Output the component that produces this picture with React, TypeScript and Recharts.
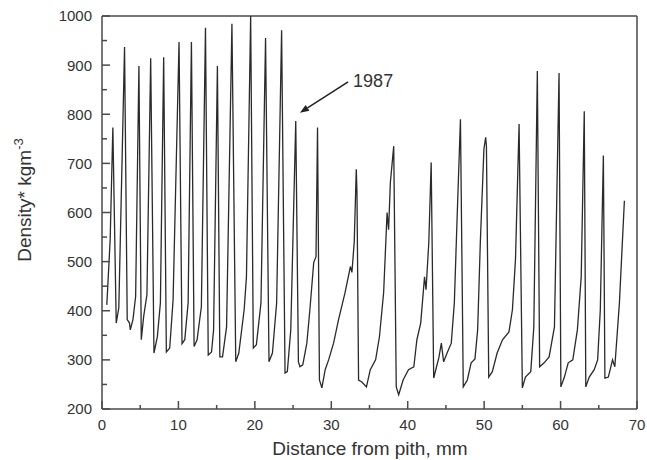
import { LineChart, Line, XAxis, YAxis, ReferenceLine } from 'recharts';

const distance = [
  0.63, 1.07, 1.42, 1.86, 2.2, 2.95, 3.3, 3.6, 3.7, 4.05, 4.4, 4.83, 5.14, 5.45, 5.88, 6.37, 6.8, 7.24, 7.64, 8.07,
  8.42, 8.86, 9.3, 10.08, 10.47, 10.83, 11.27, 11.7, 12.05, 12.44, 13.0, 13.54, 13.9, 14.33, 14.6, 15.1, 15.42, 15.77,
  16.3, 17.0, 17.5, 17.9, 18.6, 18.9, 19.45, 19.8, 20.2, 20.8, 21.4, 21.85, 22.3, 22.85, 23.5, 23.95, 24.25, 24.7,
  25.35, 25.7, 25.9, 26.27, 26.8, 27.2, 27.7, 28.0, 28.2, 28.45, 28.77, 29.2, 29.65, 30.3, 30.95, 31.8, 32.5, 32.7,
  33.0, 33.27, 33.36, 33.57, 34.0, 34.6, 35.1, 35.8, 36.3, 36.85, 37.3, 37.5, 37.73, 38.17, 38.5, 38.82, 39.4, 40.1,
  40.8, 41.2, 41.7, 42.2, 42.4, 42.76, 43.07, 43.4, 43.77, 44.07, 44.4, 44.7, 45.15, 45.7, 46.1, 46.5, 46.9, 47.27,
  47.8, 48.3, 48.8, 49.15, 49.5, 49.97, 50.2, 50.3, 50.6, 51.07, 51.7, 52.4, 53.25, 53.7, 54.1, 54.57, 55.0, 55.4,
  56.1, 56.5, 56.96, 57.26, 57.85, 58.5, 59.2, 59.8, 60.04, 60.5, 61.0, 61.6, 62.2, 62.7, 63.1, 63.3, 63.75, 64.4,
  64.85, 65.2, 65.6, 65.8, 66.25, 66.8, 67.1, 67.7, 68.35,
];

const density = [
  412, 545, 773, 375, 406, 937, 382, 375, 361, 382, 429, 898, 341, 388, 433, 914, 314, 347, 416, 916,
  316, 324, 422, 947, 333, 341, 416, 947, 327, 341, 408, 976, 310, 316, 361, 898, 306, 306,
  367, 984, 296, 314, 402, 469, 1000, 324, 331, 416, 955, 296, 314, 416, 971, 273, 276, 361,
  786, 296, 286, 290, 334, 402, 498, 510, 773, 259, 243, 280, 300, 334, 382, 437, 490, 478,
  539, 688, 641, 259, 255, 245, 280, 300, 347, 437, 600, 565, 661, 735, 245, 229, 259, 280,
  286, 341, 375, 469, 443, 539, 702, 263, 286, 304, 334, 296, 314, 334, 416, 606, 790, 245,
  259, 294, 302, 361, 539, 729, 753, 735, 265, 276, 314, 341, 357, 402, 504, 780, 243, 265,
  276, 367, 888, 286, 294, 306, 367, 884, 245, 265, 294, 300, 361, 469, 806, 245, 265, 280,
  300, 402, 716, 263, 265, 300, 286, 416, 624,
];

const xTicks = [0, 5, 10, 15, 20, 25, 30, 35, 40, 45, 50, 55, 60, 65, 70];
const yTicks = [200, 250, 300, 350, 400, 450, 500, 550, 600, 650, 700, 750, 800, 850, 900, 950, 1000];

const arrowTail = { x: 32.2, y: 866 };
const arrowHead = { x: 25.9, y: 803 };
const arrowLabel = '1987';

const data = distance.map((x, i) => ({ x, y: density[i] }));

const FONT = '"Liberation Sans", Arial, sans-serif';
const AXIS = '#4a4a4a';
const TEXT = '#333';

const LeftTick = (props: any) => {
  const { x, y, payload } = props;
  const major = payload.value % 100 === 0;
  return (
    <g>
      <line x1={x} y1={y} x2={x + (major ? 8 : 5)} y2={y} stroke={AXIS} strokeWidth={1.5} />
      {major && (
        <text x={x - 10} y={y} dy="0.36em" textAnchor="end" fontSize={15} fill={TEXT} fontFamily={FONT}>
          {payload.value}
        </text>
      )}
    </g>
  );
};

const RightTick = (props: any) => {
  const { x, y, payload } = props;
  const major = payload.value % 100 === 0;
  return <line x1={x} y1={y} x2={x - (major ? 9 : 5)} y2={y} stroke={AXIS} strokeWidth={1.5} />;
};

const BottomTick = (props: any) => {
  const { x, y, payload } = props;
  const major = payload.value % 10 === 0;
  return (
    <g>
      <line x1={x} y1={y} x2={x} y2={y - (major ? 8 : 4)} stroke={AXIS} strokeWidth={1.5} />
      {major && (
        <text x={x} y={y + 21} textAnchor="middle" fontSize={15} fill={TEXT} fontFamily={FONT}>
          {payload.value}
        </text>
      )}
    </g>
  );
};

const YLabel = () => (
  <text transform="translate(31, 200) rotate(-90)" textAnchor="middle" fontSize={19} fill={TEXT} fontFamily={FONT}>
    Density* kgm
    <tspan dy={-8} fontSize={13}>-3</tspan>
  </text>
);

const XLabel = () => (
  <text x={370} y={455} textAnchor="middle" fontSize={19} fill={TEXT} fontFamily={FONT}>
    Distance from pith, mm
  </text>
);

const Arrow = (props: any) => {
  const { x1, y1, x2, y2 } = props;
  const ang = Math.atan2(y2 - y1, x2 - x1);
  const len = 9;
  const w = 3.5;
  const bx = x2 - len * Math.cos(ang);
  const by = y2 - len * Math.sin(ang);
  const px = -Math.sin(ang) * w;
  const py = Math.cos(ang) * w;
  return (
    <g>
      <line x1={x1} y1={y1} x2={bx} y2={by} stroke="#222" strokeWidth={1.5} />
      <polygon points={`${x2},${y2} ${bx + px},${by + py} ${bx - px},${by - py}`} fill="#222" />
      <text x={x1 + 5} y={y1 + 5} fontSize={18} fill={TEXT} fontFamily={FONT}>
        {arrowLabel}
      </text>
    </g>
  );
};

export default function App() {
  return (
    <div style={{ position: 'absolute', left: 0, top: 0, background: '#fff' }}>
      <LineChart width={647} height={460} data={data} margin={{ top: 16, right: 0, bottom: 0, left: 0 }}>
        <XAxis
          dataKey="x"
          type="number"
          domain={[0, 70]}
          ticks={xTicks}
          interval={0}
          height={51}
          tickSize={0}
          tickMargin={0}
          tickLine={false}
          tick={(p: any) => <BottomTick {...p} />}
          axisLine={{ stroke: AXIS, strokeWidth: 1.5 }}
          label={<XLabel />}
        />
        <YAxis
          yAxisId="left"
          type="number"
          domain={[200, 1000]}
          ticks={yTicks}
          interval={0}
          width={102}
          tickSize={0}
          tickMargin={0}
          tickLine={false}
          tick={(p: any) => <LeftTick {...p} />}
          axisLine={{ stroke: AXIS, strokeWidth: 1.5 }}
          label={<YLabel />}
        />
        <YAxis
          yAxisId="right"
          orientation="right"
          type="number"
          domain={[200, 1000]}
          ticks={yTicks}
          interval={0}
          width={10}
          tickSize={0}
          tickMargin={0}
          tickLine={false}
          tick={(p: any) => <RightTick {...p} />}
          axisLine={{ stroke: AXIS, strokeWidth: 1.5 }}
        />
        <ReferenceLine yAxisId="left" y={1000} stroke={AXIS} strokeWidth={1.5} />
        <Line
          yAxisId="left"
          type="linear"
          dataKey="y"
          stroke="#2a2a2a"
          strokeWidth={1.3}
          dot={false}
          activeDot={false}
          isAnimationActive={false}
        />
        <ReferenceLine
          yAxisId="left"
          segment={[arrowTail, arrowHead]}
          ifOverflow="visible"
          shape={(p: any) => <Arrow {...p} />}
        />
      </LineChart>
    </div>
  );
}
